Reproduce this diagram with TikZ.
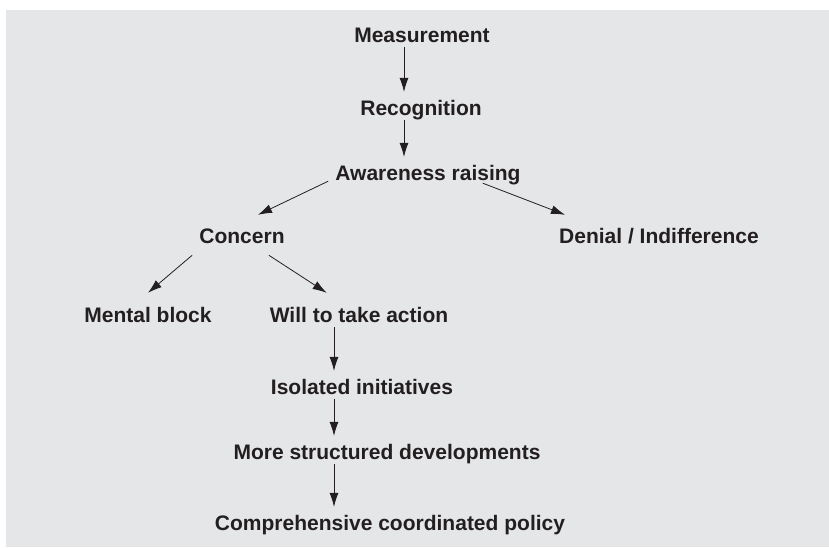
\documentclass[tikz,border=0pt]{standalone}
\usepackage{fontspec}
\setmainfont{Liberation Sans}
\usepackage{tikz}
\usetikzlibrary{arrows.meta}

\definecolor{panel}{RGB}{229,230,232}
\definecolor{ink}{RGB}{35,31,32}

\begin{document}
\begin{tikzpicture}[x=1pt,y=-1pt,
        lbl/.style={anchor=base,inner sep=0pt,text height=15pt,text depth=5pt,
            text=ink,font=\fontsize{21}{25}\selectfont\bfseries},
        arr/.style={draw=ink,line width=0.8pt,-{Latex[length=14pt,width=9pt]},shorten >=8pt}]
        \useasboundingbox (0,0) rectangle (829,547);
        \fill[panel] (6,10) rectangle (829,547);
        % stages
        \node[lbl] (meas) at (422,42) {Measurement};
        \node[lbl] (recog) at (421,115) {Recognition};
        \node[lbl] (aware) at (428,180) {Awareness raising};
        \node[lbl] (concern) at (242,243) {Concern};
        \node[lbl] (denial) at (659,243) {Denial / Indifference};
        \node[lbl] (mental) at (148,322) {Mental block};
        \node[lbl] (will) at (359,322) {Will to take action};
        \node[lbl] (isol) at (362,394) {Isolated initiatives};
        \node[lbl] (more) at (387,459) {More structured developments};
        \node[lbl] (comp) at (390,530) {Comprehensive coordinated policy};
        % vertical lines
        \coordinate (topline) at (404,0);
        \coordinate (lowline) at (334,0);
        \draw[arr] (meas.south -| topline) -- (recog.north -| topline);
        \draw[arr] (recog.south -| topline) -- (aware.north -| topline);
        \draw[arr] (will.south -| lowline) -- (isol.north -| lowline);
        \draw[arr] (isol.south -| lowline) -- (more.north -| lowline);
        \draw[arr] (more.south -| lowline) -- (comp.north -| lowline);
        % branches
        \draw[arr,shorten >=0pt] ([shift={(-7,-4)}]aware.south west) -- ([shift={(16,-13)}]concern.north);
        \draw[arr,shorten >=0pt] ([shift={(-38,-2)}]aware.south east) -- ([shift={(6,-13)}]denial.north west);
        \draw[arr,shorten >=0pt] ([shift={(-7,7)}]concern.south west) -- ([shift={(0,-14)}]mental.north);
        \draw[arr,shorten >=0pt] ([shift={(-16,7)}]concern.south east) -- ([shift={(57,-14)}]will.north west);
\end{tikzpicture}
\end{document}
